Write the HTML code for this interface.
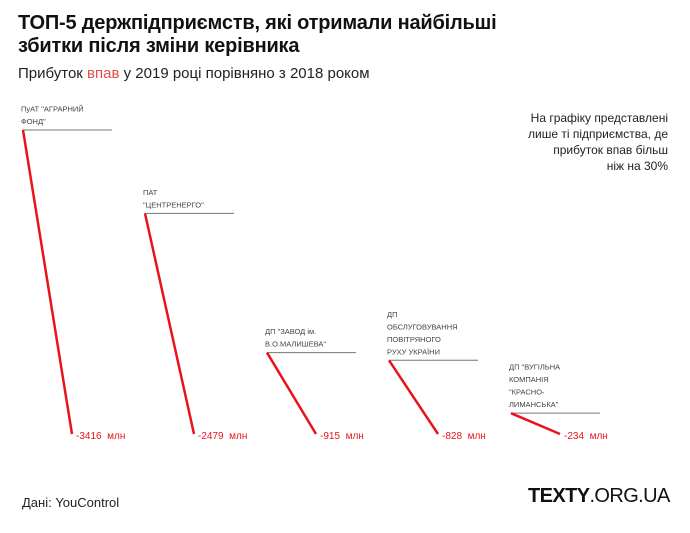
<!DOCTYPE html>
<html><head><meta charset="utf-8"><style>
body{margin:0;width:690px;height:533px;background:#fff;font-family:"Liberation Sans",sans-serif;overflow:hidden;position:relative}
.t{position:absolute;white-space:nowrap}
</style></head><body>
<div class="t" style="left:18px;top:12px;font-size:20px;font-weight:bold;line-height:23px;color:#111;letter-spacing:-0.2px">ТОП-5 держпідприємств, які отримали найбільші<br>збитки після зміни керівника</div>
<div class="t" style="left:18px;top:65px;font-size:15px;color:#222">Прибуток <span style="color:#e84a4a">впав</span> у 2019 році порівняно з 2018 роком</div>
<div class="t" style="right:22px;top:110px;font-size:12px;line-height:16px;color:#222;text-align:right">На графіку представлені<br>лише ті підприємства, де<br>прибуток впав більш<br>ніж на 30%</div>
<svg id="chart" width="690" height="533" style="position:absolute;left:0;top:0"></svg>
<div class="t" style="left:22px;top:495px;font-size:13px;color:#222">Дані: YouControl</div>
<div class="t" style="left:528px;top:485px;font-size:20px;color:#111;letter-spacing:-0.6px"><b>TEXTY</b>.ORG.UA</div>
<script>
const names=[["ПуАТ \"АГРАРНИЙ","ФОНД\""],["ПАТ","\"ЦЕНТРЕНЕРГО\""],["ДП \"ЗАВОД ім.","В.О.МАЛИШЕВА\""],["ДП","ОБСЛУГОВУВАННЯ","ПОВІТРЯНОГО","РУХУ УКРАЇНИ"],["ДП \"ВУГІЛЬНА","КОМПАНІЯ","\"КРАСНО-","ЛИМАНСЬКА\""]];
const values=[-3416,-2479,-915,-828,-234];
const baseY=434,scale=0.089;
const yOf=v=>baseY+v*scale;
const xOf=i=>23+i*122;
const svg=document.getElementById('chart');const NS='http://www.w3.org/2000/svg';
function mk(t,a){const e=document.createElementNS(NS,t);for(const k in a)e.setAttribute(k,a[k]);svg.appendChild(e);return e;}
values.forEach((v,i)=>{
 const x0=xOf(i),y0=yOf(v),x1=x0+49;
 const g=mk('line',{x1:x0,y1:y0,x2:x0+89,y2:y0,stroke:'#777','stroke-width':1});
 
 
 const r=mk('line',{x1:x0,y1:y0,x2:x1,y2:baseY,stroke:'#e8141a','stroke-width':2.5});
 
 
 const lines=names[i];
 lines.forEach((s,j)=>{
  const t=mk('text',{x:x0-2,y:y0-6-(lines.length-1-j)*12.5,'font-size':7.5,fill:'#444','font-family':'Liberation Sans, sans-serif'});
  t.textContent=s;
  
  
 });
 const vt=mk('text',{x:x1+4,y:baseY+5,'font-size':10,fill:'#e8141a','font-family':'Liberation Sans, sans-serif',style:'white-space:pre'});
 vt.textContent=v+'  млн';
 
 
});
</script>
</body></html>
